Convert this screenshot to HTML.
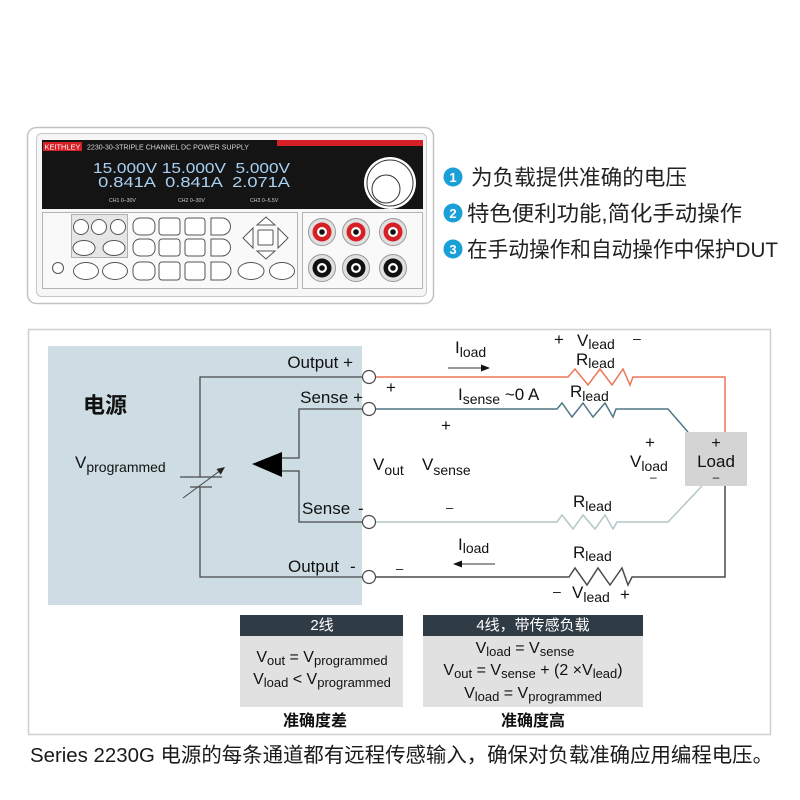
<!DOCTYPE html>
<html><head><meta charset="utf-8"><style>
html,body{margin:0;padding:0;background:#fff;}
svg{display:block;}
text{font-family:"Liberation Sans","Noto Sans CJK SC",sans-serif;}
</style></head><body>
<svg width="800" height="800" viewBox="0 0 800 800" xmlns="http://www.w3.org/2000/svg">
<rect width="800" height="800" fill="#fff"/>

<!-- ===== Instrument ===== -->
<rect x="27.5" y="127.5" width="406" height="176" rx="9" fill="#fff" stroke="#c2c2c2" stroke-width="1.5"/>
<rect x="36.5" y="133.5" width="390" height="163" rx="5" fill="#f6f6f6" stroke="#c8c8c8"/>
<rect x="42" y="140" width="381" height="69" fill="#141414"/>
<rect x="277" y="140" width="146" height="6" fill="#d71f26"/>
<rect x="43" y="142" width="39" height="9" fill="#d71f26"/>
<text x="44.5" y="149.5" font-size="7" fill="#fff" textLength="36" lengthAdjust="spacingAndGlyphs">KEITHLEY</text>
<text x="87" y="149.5" font-size="7.5" fill="#d8d8d8" textLength="162" lengthAdjust="spacingAndGlyphs">2230-30-3TRIPLE CHANNEL DC POWER SUPPLY</text>
<text x="93" y="173" font-family="Liberation Mono, monospace" font-size="15" fill="#a9d1f3" textLength="197" lengthAdjust="spacingAndGlyphs" xml:space="preserve">15.000V 15.000V  5.000V</text>
<text x="93" y="187" font-family="Liberation Mono, monospace" font-size="15" fill="#a9d1f3" textLength="197" lengthAdjust="spacingAndGlyphs" xml:space="preserve"> 0.841A  0.841A  2.071A</text>
<text x="109" y="202" font-size="5.2" fill="#cfcfcf">CH1 0–30V</text>
<text x="178" y="202" font-size="5.2" fill="#cfcfcf">CH2 0–30V</text>
<text x="250" y="202" font-size="5.2" fill="#cfcfcf">CH3 0–5.5V</text>
<circle cx="390" cy="183" r="26" fill="#fff"/>
<circle cx="390" cy="183" r="23" fill="none" stroke="#333" stroke-width="1"/>
<circle cx="386" cy="189" r="14" fill="none" stroke="#333" stroke-width="1"/>

<rect x="42.5" y="212.5" width="255" height="76" fill="#f9f9f9" stroke="#b4b4b4"/>
<rect x="302.5" y="212.5" width="120" height="76" fill="#f9f9f9" stroke="#b4b4b4"/>
<rect x="71.5" y="214.5" width="56" height="43" fill="#e6e6e6" stroke="#b0b0b0"/>

<g fill="#fff" stroke="#555" stroke-width="1">
  <circle cx="81" cy="227" r="7.5"/>
  <circle cx="99" cy="227" r="7.5"/>
  <circle cx="118" cy="227" r="7.5"/>
  <ellipse cx="84" cy="248" rx="11" ry="7.5"/>
  <ellipse cx="114" cy="248" rx="11" ry="7.5"/>
  <rect x="133" y="218" width="22" height="17" rx="7"/>
  <rect x="159" y="218" width="21" height="17" rx="3"/>
  <rect x="185" y="218" width="20" height="17" rx="3"/>
  <path d="M211 218 H222 A8.5 8.5 0 0 1 222 235 H211 Z"/>
  <rect x="133" y="239" width="22" height="17" rx="7"/>
  <rect x="159" y="239" width="21" height="17" rx="3"/>
  <rect x="185" y="239" width="20" height="17" rx="3"/>
  <path d="M211 239 H222 A8.5 8.5 0 0 1 222 256 H211 Z"/>
  <circle cx="58" cy="268" r="5.5"/>
  <ellipse cx="86" cy="271" rx="12.5" ry="8.5"/>
  <ellipse cx="115" cy="271" rx="12.5" ry="8.5"/>
  <rect x="133" y="262" width="22" height="18" rx="7"/>
  <rect x="159" y="262" width="21" height="18" rx="3"/>
  <rect x="185" y="262" width="20" height="18" rx="3"/>
  <path d="M211 262 H222 A9 9 0 0 1 222 280 H211 Z"/>
  <ellipse cx="251" cy="271" rx="13" ry="8.5"/>
  <ellipse cx="282" cy="271" rx="12.5" ry="8.5"/>
  <polygon points="257,225 266,217 275,225"/>
  <rect x="258" y="230" width="15" height="15" rx="1"/>
  <polygon points="253,228 243,238 253,248"/>
  <polygon points="278,228 288,238 278,248"/>
  <polygon points="257,251 266,259 275,251"/>
</g>

<g>
  <g transform="translate(322,232)"><circle r="13.5" fill="#e0e0e0" stroke="#999"/><circle r="9.5" fill="#d71f26"/><circle r="5" fill="#fff"/><circle r="2.8" fill="#111"/></g>
  <g transform="translate(356,232)"><circle r="13.5" fill="#e0e0e0" stroke="#999"/><circle r="9.5" fill="#d71f26"/><circle r="5" fill="#fff"/><circle r="2.8" fill="#111"/></g>
  <g transform="translate(393,232)"><circle r="13.5" fill="#e0e0e0" stroke="#999"/><circle r="9.5" fill="#d71f26"/><circle r="5" fill="#fff"/><circle r="2.8" fill="#111"/></g>
  <g transform="translate(322,268)"><circle r="13.5" fill="#e0e0e0" stroke="#999"/><circle r="9.5" fill="#111"/><circle r="5" fill="#fff"/><circle r="2.8" fill="#111"/></g>
  <g transform="translate(356,268)"><circle r="13.5" fill="#e0e0e0" stroke="#999"/><circle r="9.5" fill="#111"/><circle r="5" fill="#fff"/><circle r="2.8" fill="#111"/></g>
  <g transform="translate(393,268)"><circle r="13.5" fill="#e0e0e0" stroke="#999"/><circle r="9.5" fill="#111"/><circle r="5" fill="#fff"/><circle r="2.8" fill="#111"/></g>
</g>

<!-- bullets -->
<g>
  <circle cx="453" cy="177" r="9.5" fill="#1b9fd9"/>
  <text x="453" y="182" font-size="13" font-weight="bold" fill="#fff" text-anchor="middle">1</text>
  <circle cx="453" cy="213" r="9.5" fill="#1b9fd9"/>
  <text x="453" y="218" font-size="13" font-weight="bold" fill="#fff" text-anchor="middle">2</text>
  <circle cx="453" cy="249" r="9.5" fill="#1b9fd9"/>
  <text x="453" y="254" font-size="13" font-weight="bold" fill="#fff" text-anchor="middle">3</text>
  <text x="471" y="185" font-size="21.5" fill="#222" textLength="216" lengthAdjust="spacingAndGlyphs">为负载提供准确的电压</text>
  <text x="467" y="221" font-size="21.5" fill="#222" textLength="275" lengthAdjust="spacingAndGlyphs">特色便利功能,简化手动操作</text>
  <text x="467" y="257" font-size="21.5" fill="#222" textLength="311" lengthAdjust="spacingAndGlyphs">在手动操作和自动操作中保护DUT</text>
</g>

<!-- ===== Diagram ===== -->
<rect x="28.5" y="329.5" width="742" height="405" fill="none" stroke="#cfcfcf" stroke-width="1.5"/>
<rect x="48" y="346" width="314" height="259" fill="#cddde3"/>

<g stroke="#4a4a4a" stroke-width="1.3" fill="none">
  <polyline points="362.5,377 200,377 200,477"/>
  <polyline points="200,487 200,577 362.5,577"/>
  <polyline points="362.5,409 299,409 299,458 280,458"/>
  <polyline points="280,471 299,471 299,522 362.5,522"/>
  <line x1="180" y1="477" x2="222" y2="477"/>
  <line x1="190" y1="487" x2="212" y2="487"/>
  <line x1="183" y1="498" x2="218.6" y2="471.8" stroke-width="1"/>
</g>
<polygon points="225,467 220.7,474.6 216.5,469" fill="#222"/>
<polygon points="252,464 282,452 282,477" fill="#000"/>

<g fill="none" stroke-width="1.5" stroke-linejoin="miter">
  <polyline stroke="#ec7656" points="375.5,377 568,377 575,369 588,385 600,369 612,385 623,369 630,385 633,377 725,377 725,432"/>
  <polyline stroke="#4f7686" points="375.5,409 557,409 562,403 572,417 583,403 593,417 605,403 613,417 616,409 668,409 688,432"/>
  <polyline stroke="#b4c6c6" points="375.5,522 557,522 562,515 573,529 583,515 595,529 605,515 613,529 617,522 668,522 702,486"/>
  <polyline stroke="#4a4a4a" points="375.5,577 569,577 575,568 587,585 598,568 610,585 622,568 628,585 632,577 725,577 725,486"/>
</g>

<g fill="#fff" stroke="#4a4a4a" stroke-width="1.2">
  <circle cx="369" cy="377" r="6.5"/>
  <circle cx="369" cy="409" r="6.5"/>
  <circle cx="369" cy="522" r="6.5"/>
  <circle cx="369" cy="577" r="6.5"/>
</g>

<rect x="685" y="432" width="62" height="54" fill="#d4d4d4"/>
<text x="716" y="448" font-size="16" fill="#111" text-anchor="middle">+</text>
<text x="716" y="467" font-size="17" fill="#111" text-anchor="middle">Load</text>
<text x="716" y="481" font-size="12" fill="#111" text-anchor="middle">–</text>

<line x1="448" y1="368" x2="483" y2="368" stroke="#333" stroke-width="1"/>
<polygon points="490,368 481,364.5 481,371.5" fill="#111"/>
<line x1="495" y1="564" x2="460" y2="564" stroke="#333" stroke-width="1"/>
<polygon points="453,564 462,560.5 462,567.5" fill="#111"/>

<g font-size="17" fill="#111">
  <text x="353" y="368" text-anchor="end">Output +</text>
  <text x="363" y="403" text-anchor="end">Sense +</text>
  <text x="302" y="514">Sense</text><text x="358" y="514">-</text>
  <text x="288" y="572">Output</text><text x="350" y="572">-</text>
  <text x="83" y="413" font-size="22" font-weight="bold">电源</text>
  <text x="75" y="468">V<tspan font-size="14" dy="4">programmed</tspan></text>
  <text x="386" y="393">+</text>
  <text x="373" y="470">V<tspan font-size="14" dy="5">out</tspan></text>
  <text x="422" y="470">V<tspan font-size="14" dy="5">sense</tspan></text>
  <text x="441" y="431">+</text>
  <text x="455" y="353">I<tspan font-size="14" dy="4">load</tspan></text>
  <text x="458" y="400">I<tspan font-size="14" dy="4">sense</tspan><tspan dy="-4"> ~0 A</tspan></text>
  <text x="554" y="345">+</text>
  <text x="577" y="346">V<tspan font-size="14" dy="3">lead</tspan></text>
  <text x="633" y="343" font-size="14">–</text>
  <text x="576" y="365">R<tspan font-size="14" dy="3">lead</tspan></text>
  <text x="570" y="397">R<tspan font-size="14" dy="4">lead</tspan></text>
  <text x="645" y="448">+</text>
  <text x="630" y="467">V<tspan font-size="14" dy="4">load</tspan></text>
  <text x="650" y="481" font-size="12">–</text>
  <text x="446" y="512" font-size="13">–</text>
  <text x="573" y="507">R<tspan font-size="14" dy="4">lead</tspan></text>
  <text x="458" y="550">I<tspan font-size="14" dy="3">load</tspan></text>
  <text x="396" y="573" font-size="13">–</text>
  <text x="573" y="558">R<tspan font-size="14" dy="3">lead</tspan></text>
  <text x="553" y="596" font-size="14">–</text>
  <text x="572" y="598">V<tspan font-size="14" dy="4">lead</tspan></text>
  <text x="620" y="600">+</text>
</g>

<rect x="240" y="615" width="163" height="21" fill="#2f3b45"/>
<rect x="240" y="636" width="163" height="71" fill="#e1e1e1"/>
<rect x="423" y="615" width="220" height="21" fill="#2f3b45"/>
<rect x="423" y="636" width="220" height="71" fill="#e1e1e1"/>
<text x="322" y="630" font-size="15" fill="#fff" text-anchor="middle">2线</text>
<text x="533" y="630" font-size="15" fill="#fff" text-anchor="middle">4线，带传感负载</text>
<g font-size="16" fill="#111" text-anchor="middle">
  <text x="322" y="662">V<tspan font-size="13" dy="3">out</tspan><tspan dy="-3"> = V</tspan><tspan font-size="13" dy="3">programmed</tspan></text>
  <text x="322" y="684">V<tspan font-size="13" dy="3">load</tspan><tspan dy="-3"> &lt; V</tspan><tspan font-size="13" dy="3">programmed</tspan></text>
  <text x="525" y="653">V<tspan font-size="13" dy="3">load</tspan><tspan dy="-3"> = V</tspan><tspan font-size="13" dy="3">sense</tspan></text>
  <text x="533" y="675">V<tspan font-size="13" dy="3">out</tspan><tspan dy="-3"> = V</tspan><tspan font-size="13" dy="3">sense</tspan><tspan dy="-3"> + (2 ×V</tspan><tspan font-size="13" dy="3">lead</tspan><tspan dy="-3">)</tspan></text>
  <text x="533" y="698">V<tspan font-size="13" dy="3">load</tspan><tspan dy="-3"> = V</tspan><tspan font-size="13" dy="3">programmed</tspan></text>
</g>
<text x="315" y="726" font-size="16" font-weight="bold" fill="#111" text-anchor="middle">准确度差</text>
<text x="533" y="726" font-size="16" font-weight="bold" fill="#111" text-anchor="middle">准确度高</text>

<text x="30" y="762" font-size="20.5" fill="#1a1a1a" textLength="743" lengthAdjust="spacingAndGlyphs">Series 2230G 电源的每条通道都有远程传感输入，确保对负载准确应用编程电压。</text>
</svg>
</body></html>
